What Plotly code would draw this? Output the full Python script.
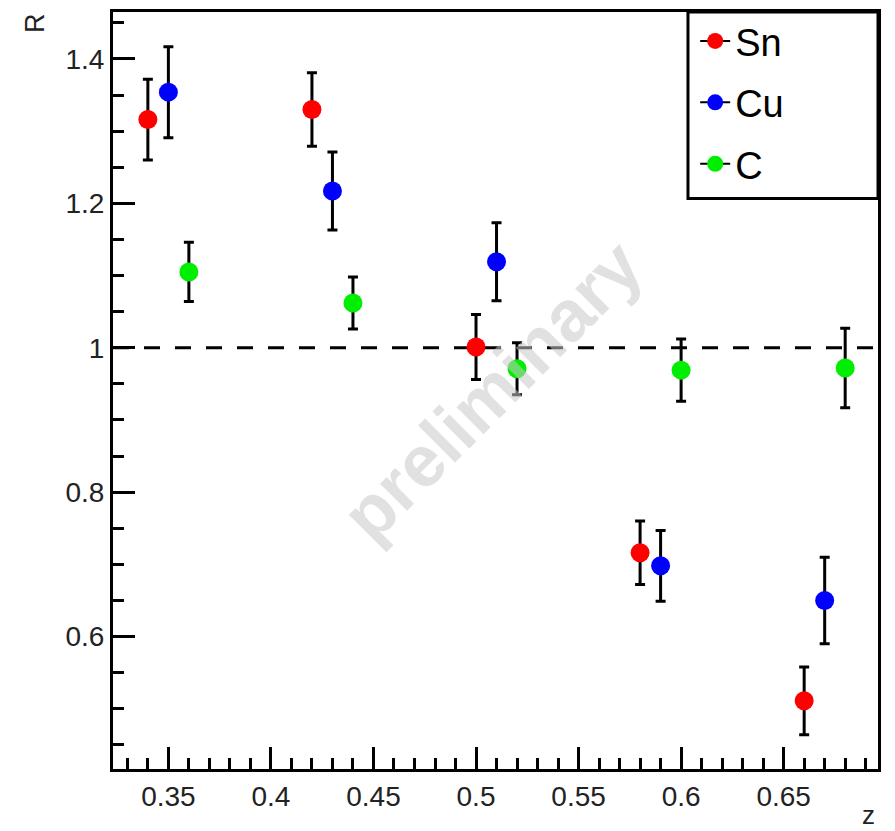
import plotly.graph_objects as go

# Data
sn_z = [0.34, 0.42, 0.50, 0.58, 0.66]
sn_r = [1.316, 1.330, 1.001, 0.716, 0.511]
sn_err = [0.056, 0.051, 0.045, 0.044, 0.047]

cu_z = [0.35, 0.43, 0.51, 0.59, 0.67]
cu_r = [1.354, 1.217, 1.119, 0.698, 0.650]
cu_err = [0.063, 0.054, 0.054, 0.049, 0.060]

c_z = [0.36, 0.44, 0.52, 0.60, 0.68]
c_r = [1.105, 1.062, 0.971, 0.969, 0.972]
c_err = [0.041, 0.036, 0.036, 0.043, 0.055]

series_names = ["Sn", "Cu", "C"]
series_colors = ["#ff0000", "#0000ff", "#00ee00"]

x_ticks = [0.35, 0.4, 0.45, 0.5, 0.55, 0.6, 0.65]
x_ticktext = ["0.35", "0.4", "0.45", "0.5", "0.55", "0.6", "0.65"]
y_ticks = [0.6, 0.8, 1.0, 1.2, 1.4]
y_ticktext = ["0.6", "0.8", "1", "1.2", "1.4"]

X_RANGE = [0.323, 0.696]
Y_RANGE = [0.4166, 1.465]

FONT = "Liberation Sans, Arial, Helvetica, sans-serif"

fig = go.Figure()

# reference line at R = 1
fig.add_shape(type="line", xref="x", yref="y", x0=X_RANGE[0], x1=X_RANGE[1], y0=1, y1=1,
              line=dict(color="black", width=3, dash="16px,15px"), layer="below")

series = zip(series_names, [sn_z, cu_z, c_z], [sn_r, cu_r, c_r],
             [sn_err, cu_err, c_err], series_colors)
for name, z, r, e, col in series:
    fig.add_trace(go.Scatter(
        x=z, y=r, mode="markers", name=name, showlegend=False,
        marker=dict(color=col, size=19, line=dict(width=0)),
        error_y=dict(type="data", array=e, color="black", thickness=3, width=5),
    ))
    # legend entry (marker with a short line through it)
    fig.add_trace(go.Scatter(
        x=[None], y=[None], mode="lines+markers", name=name, legendgroup=name,
        line=dict(color="black", width=2),
        marker=dict(color=col, size=19),
    ))

# watermark
fig.add_annotation(x=0.508, y=0.941, xref="x", yref="y", text="<b>preliminary</b>",
                   textangle=-45, showarrow=False, xanchor="center", yanchor="middle",
                   font=dict(family=FONT, size=72, color="rgba(200,200,200,0.55)"))

# axis titles
fig.add_annotation(xref="paper", yref="paper", x=-0.102, y=0.9855, text="R", textangle=-90,
                   xanchor="center", yanchor="middle", showarrow=False,
                   font=dict(family=FONT, size=27, color="#222"))
fig.add_annotation(xref="paper", yref="paper", x=0.988, y=-0.061, text="z",
                   xanchor="center", yanchor="middle", showarrow=False,
                   font=dict(family=FONT, size=26, color="#222"))

# legend box
fig.add_shape(type="rect", xref="paper", yref="paper", x0=0.7516, x1=1.0, y0=0.7536, y1=1.0,
              line=dict(color="black", width=3), fillcolor="white", layer="below")

axis_common = dict(showline=True, linecolor="black", linewidth=3, mirror=True,
                   ticks="inside", ticklen=22, tickwidth=3, tickcolor="black",
                   showgrid=False, zeroline=False,
                   tickfont=dict(family=FONT, size=28, color="#222"))

fig.update_xaxes(range=X_RANGE, tickmode="array", tickvals=x_ticks, ticktext=x_ticktext,
                 minor=dict(ticks="inside", ticklen=11, tickwidth=3, tickcolor="black",
                            dtick=0.01, tick0=0.3, showgrid=False),
                 **axis_common)
fig.update_yaxes(range=Y_RANGE, tickmode="array", tickvals=y_ticks, ticktext=y_ticktext,
                 minor=dict(ticks="inside", ticklen=11, tickwidth=3, tickcolor="black",
                            dtick=0.05, tick0=0.0, showgrid=False),
                 **axis_common)

fig.update_layout(
    width=895, height=831,
    margin=dict(l=113, r=17, t=10, b=62),
    plot_bgcolor="white", paper_bgcolor="white",
    showlegend=True,
    legend=dict(x=0.761, y=1.003, xanchor="left", yanchor="top",
                bgcolor="rgba(0,0,0,0)", borderwidth=0,
                font=dict(family=FONT, size=38, color="black"),
                tracegroupgap=9, itemwidth=30),
)

fig.write_html("out.html")
